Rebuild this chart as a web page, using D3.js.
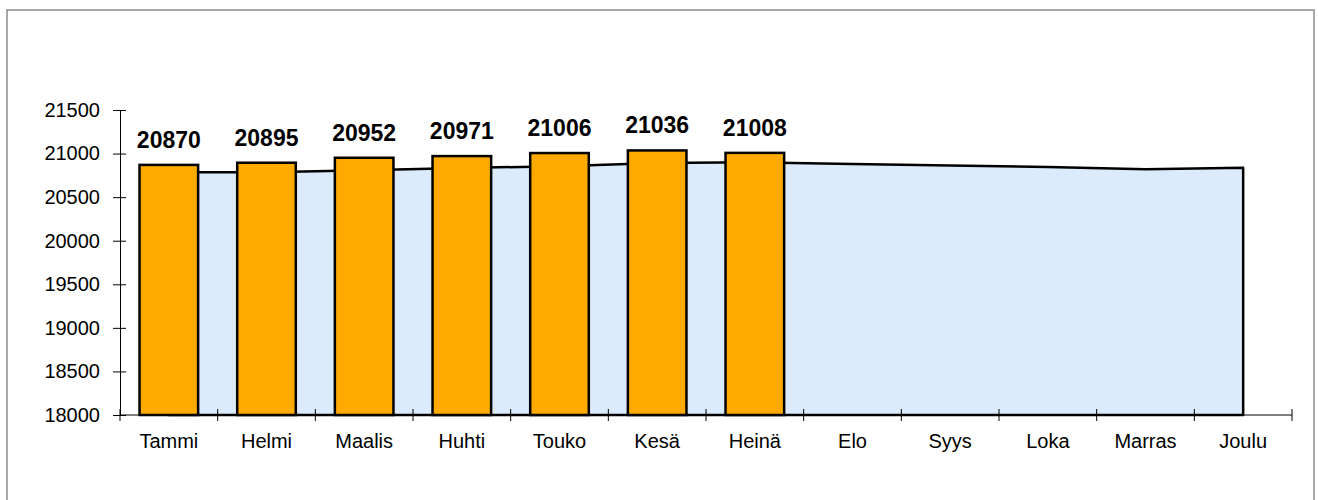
<!DOCTYPE html>
<html>
<head>
<meta charset="utf-8">
<script src="https://cdn.jsdelivr.net/npm/d3@7"></script>
<style>
  body { margin: 0; background: #fff; }
  svg { display: block; font-family: Arial, "Liberation Sans", sans-serif; }
</style>
</head>
<body>
<svg width="1318" height="500"></svg>
<script>
// months, bar values (only Jan-Jul known) and the background area series
var months = ['Tammi', 'Helmi', 'Maalis', 'Huhti', 'Touko', 'Kesä', 'Heinä', 'Elo', 'Syys', 'Loka', 'Marras', 'Joulu'];
var barValues = [20870, 20895, 20952, 20971, 21006, 21036, 21008];
var areaValues = [20785, 20787, 20809, 20835, 20855, 20892, 20900, 20880, 20864, 20846, 20820, 20838];
var yTicks = [18000, 18500, 19000, 19500, 20000, 20500, 21000, 21500];

var svg = d3.select('svg');

// outer frame
svg.append('rect')
    .attr('x', 7).attr('y', 10)
    .attr('width', 1307).attr('height', 520)
    .attr('fill', 'none')
    .attr('stroke', '#8c8c8c')
    .attr('stroke-width', 1.5);

var x = d3.scaleBand().domain(months).range([120, 1292]).padding(0);
var y = d3.scaleLinear().domain([18000, 21500]).range([415, 110]);
var bw = x.bandwidth();
var cx = function(m) { return x(m) + bw / 2; };

// area behind the bars
var areaData = months.map(function(m, i) { return { m: m, v: areaValues[i] }; });
var area = d3.area()
    .x(function(d) { return cx(d.m); })
    .y0(y(18000))
    .y1(function(d) { return y(d.v); });
svg.append('path')
    .datum(areaData)
    .attr('d', area)
    .attr('fill', '#dcebfc')
    .attr('stroke', '#000')
    .attr('stroke-width', 2.5)
    .attr('stroke-linejoin', 'round');

// x axis line + ticks at band edges
svg.append('line')
    .attr('x1', 120).attr('x2', 1292)
    .attr('y1', y(18000)).attr('y2', y(18000))
    .attr('stroke', '#000').attr('stroke-width', 1);
var edges = months.map(function(m) { return x(m); }).concat([x.range()[1]]);
svg.append('g').selectAll('line')
    .data(edges)
    .enter().append('line')
    .attr('x1', function(d) { return d; })
    .attr('x2', function(d) { return d; })
    .attr('y1', y(18000) - 6)
    .attr('y2', y(18000) + 6)
    .attr('stroke', '#000').attr('stroke-width', 1);
svg.append('g').selectAll('text')
    .data(months)
    .enter().append('text')
    .attr('x', function(d) { return cx(d); })
    .attr('y', 448)
    .attr('text-anchor', 'middle')
    .attr('font-size', '20px')
    .attr('fill', '#000')
    .text(function(d) { return d; });

// y axis
var yAxis = svg.append('g')
    .attr('transform', 'translate(120,0)')
    .call(d3.axisLeft(y).tickValues(yTicks).tickSize(7).tickPadding(13).tickFormat(d3.format('d')));
yAxis.select('.domain').attr('stroke', '#000');
yAxis.selectAll('.tick line').attr('x1', 6).attr('x2', -7).attr('stroke', '#000');
yAxis.selectAll('.tick text')
    .attr('font-size', '20px')
    .attr('font-family', 'Arial, "Liberation Sans", sans-serif')
    .attr('fill', '#000');

// bars
var barData = barValues.map(function(v, i) { return { m: months[i], v: v }; });
var barW = bw * 0.6;
svg.append('g').selectAll('rect')
    .data(barData)
    .enter().append('rect')
    .attr('x', function(d) { return cx(d.m) - barW / 2; })
    .attr('y', function(d) { return y(d.v); })
    .attr('width', barW)
    .attr('height', function(d) { return y(18000) - y(d.v); })
    .attr('fill', '#ffaa00')
    .attr('stroke', '#000')
    .attr('stroke-width', 2.5);

// value labels
svg.append('g').selectAll('text')
    .data(barData)
    .enter().append('text')
    .attr('x', function(d) { return cx(d.m); })
    .attr('y', function(d) { return y(d.v) - 17; })
    .attr('text-anchor', 'middle')
    .attr('font-size', '23px')
    .attr('font-weight', 'bold')
    .attr('fill', '#000')
    .text(function(d) { return d.v; });
</script>
</body>
</html>
